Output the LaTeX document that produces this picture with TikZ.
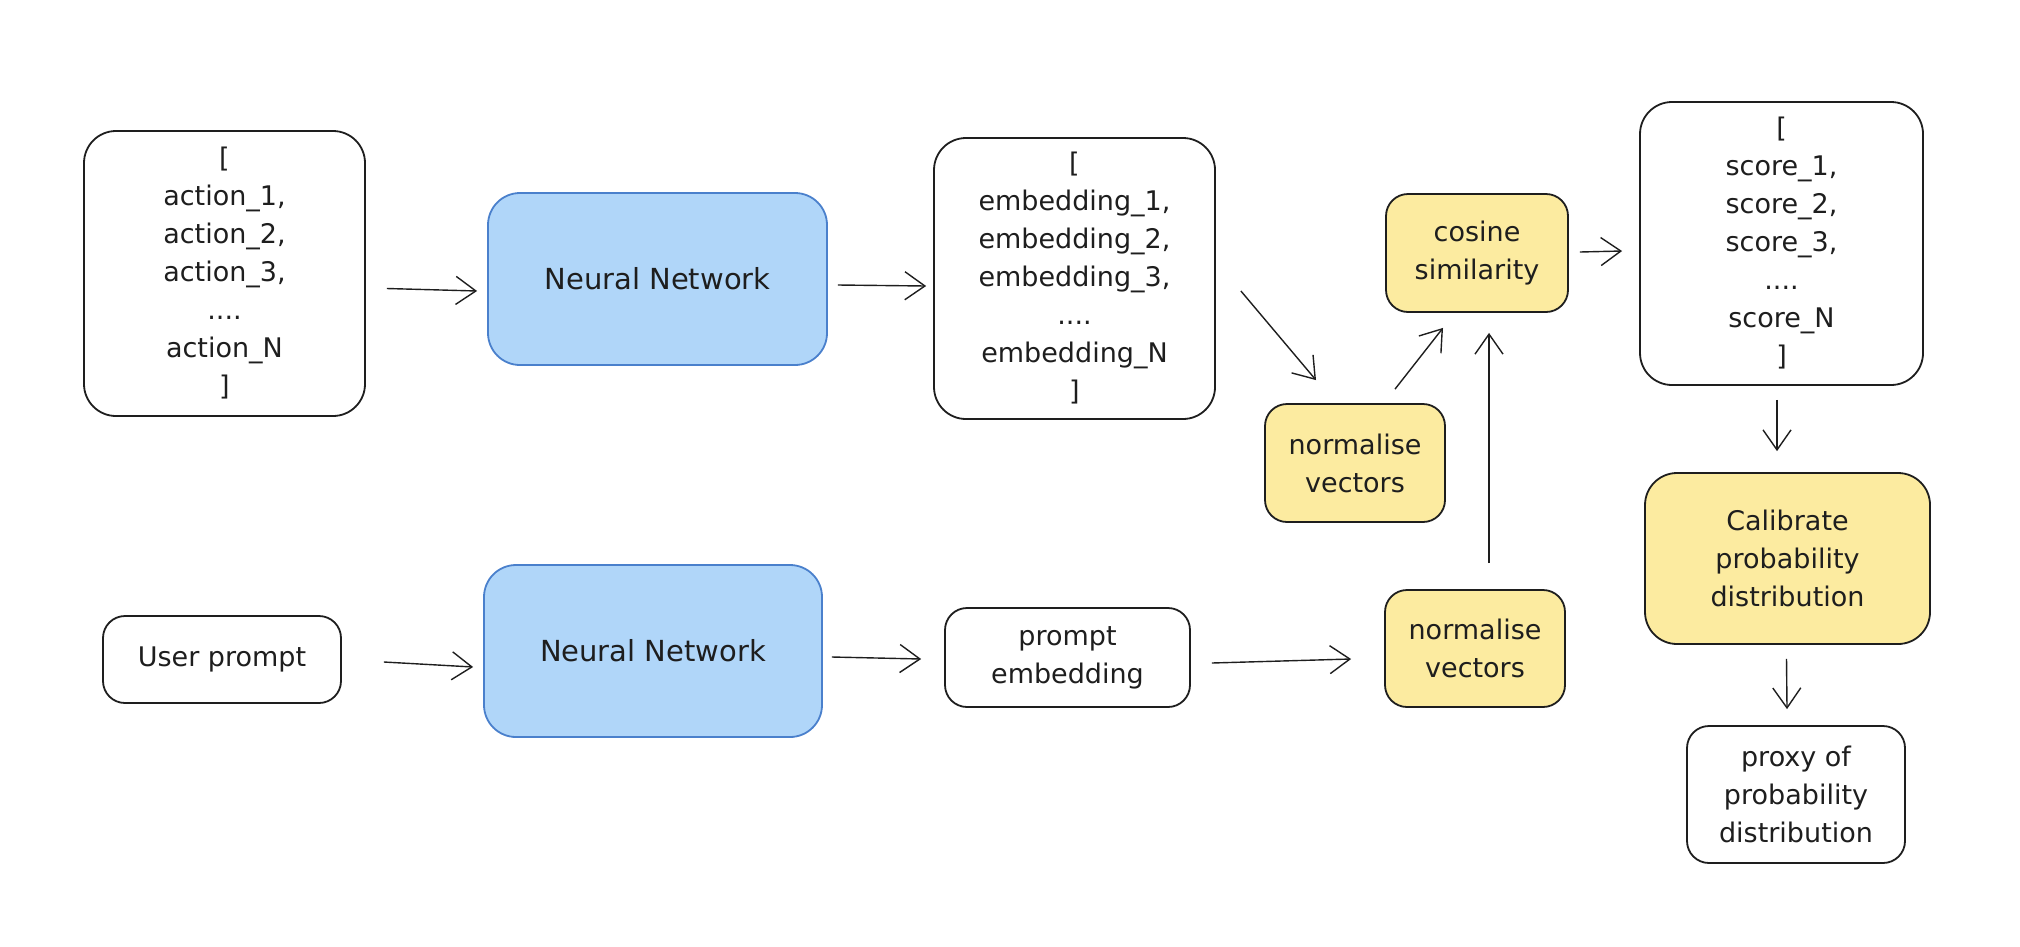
\documentclass[tikz,border=0pt]{standalone}
\usepackage{fontspec}
\setmainfont{DejaVu Sans}
\usetikzlibrary{arrows.meta,calc}
\definecolor{bluefill}{HTML}{B0D6F9}
\definecolor{blueline}{HTML}{4A80CC}
\definecolor{yelfill}{HTML}{FCEBA0}
\definecolor{ink}{HTML}{1E1E1E}
\begin{document}
\begin{tikzpicture}[x=1pt,y=-1pt,
  box/.style={draw=ink, line width=1.8pt, rounded corners=32pt, align=center,
    font=\fontsize{27}{38}\selectfont, text=ink, inner sep=0pt},
  smallbox/.style={box, rounded corners=22pt},
  nnbox/.style={box, draw=blueline, fill=bluefill, font=\fontsize{29}{38}\selectfont},
  yelbox/.style={smallbox, fill=yelfill},
  arr/.style={draw=ink, line width=1.4pt, -{Straight Barb[length=20pt,width=28pt,line width=1.4pt]}}
]
\useasboundingbox (0,0) rectangle (2020,946);

\node[box, minimum width=281pt, minimum height=285pt] (act) at (224.5,273.5)
  {[\\action\_1,\\action\_2,\\action\_3,\\....\\action\_N\\]};
\node[nnbox, minimum width=339pt, minimum height=172pt] (nn1) at (657.5,279) {Neural Network};
\node[box, minimum width=281pt, minimum height=281pt] (emb) at (1074.5,278.5)
  {[\\embedding\_1,\\embedding\_2,\\embedding\_3,\\....\\embedding\_N\\]};
\node[yelbox, minimum width=182pt, minimum height=118pt] (cos) at (1477,253) {cosine\\similarity};
\node[box, minimum width=283pt, minimum height=283pt] (score) at (1781.5,243.5)
  {[\\score\_1,\\score\_2,\\score\_3,\\....\\score\_N\\]};
\node[yelbox, minimum width=180pt, minimum height=118pt] (norm1) at (1355,463) {normalise\\vectors};
\node[box, fill=yelfill, minimum width=285pt, minimum height=171pt] (cal) at (1787.5,558.5)
  {Calibrate\\probability\\distribution};
\node[smallbox, minimum width=238pt, minimum height=87pt] (user) at (222,659.5) {User prompt};
\node[nnbox, minimum width=338pt, minimum height=172pt] (nn2) at (653,651) {Neural Network};
\node[smallbox, minimum width=245pt, minimum height=99pt] (pe) at (1067.5,657.5) {prompt\\embedding};
\node[yelbox, minimum width=180pt, minimum height=117pt] (norm2) at (1475,648.5) {normalise\\vectors};
\node[smallbox, minimum width=218pt, minimum height=137pt] (proxy) at (1796,794.5)
  {proxy of\\probability\\distribution};

\draw[arr] ($(act.east)+(21,15)$) -- ($(nn1.west)+(-10,12)$);
\draw[arr] ($(nn1.east)+(10,6)$) -- ($(emb.west)+(-7,7.5)$);
\draw[arr] ($(emb.east)+(25,12.5)$) -- ($(norm1.north)+(-39,-23)$);
\draw[arr] ($(norm1.north)+(40,-14)$) -- ($(cos.south)+(-34,15)$);
\draw[arr] ($(norm2.north)+(14,-26)$) -- ($(cos.south)+(12,20)$);
\draw[arr] ($(cos.east)+(11,-1)$) -- ($(score.west)+(-17,7.5)$);
\draw[arr] ($(score.south)+(-4.5,14)$) -- ($(cal.north)+(-10.5,-21)$);
\draw[arr] ($(cal.south)+(-1,14)$) -- ($(proxy.north)+(-9,-16)$);
\draw[arr] ($(user.east)+(42,2.5)$) -- ($(nn2.west)+(-10,16)$);
\draw[arr] ($(nn2.east)+(9,6)$) -- ($(pe.west)+(-23,1.5)$);
\draw[arr] ($(pe.east)+(21,5.5)$) -- ($(norm2.west)+(-33,10.5)$);
\end{tikzpicture}
\end{document}
